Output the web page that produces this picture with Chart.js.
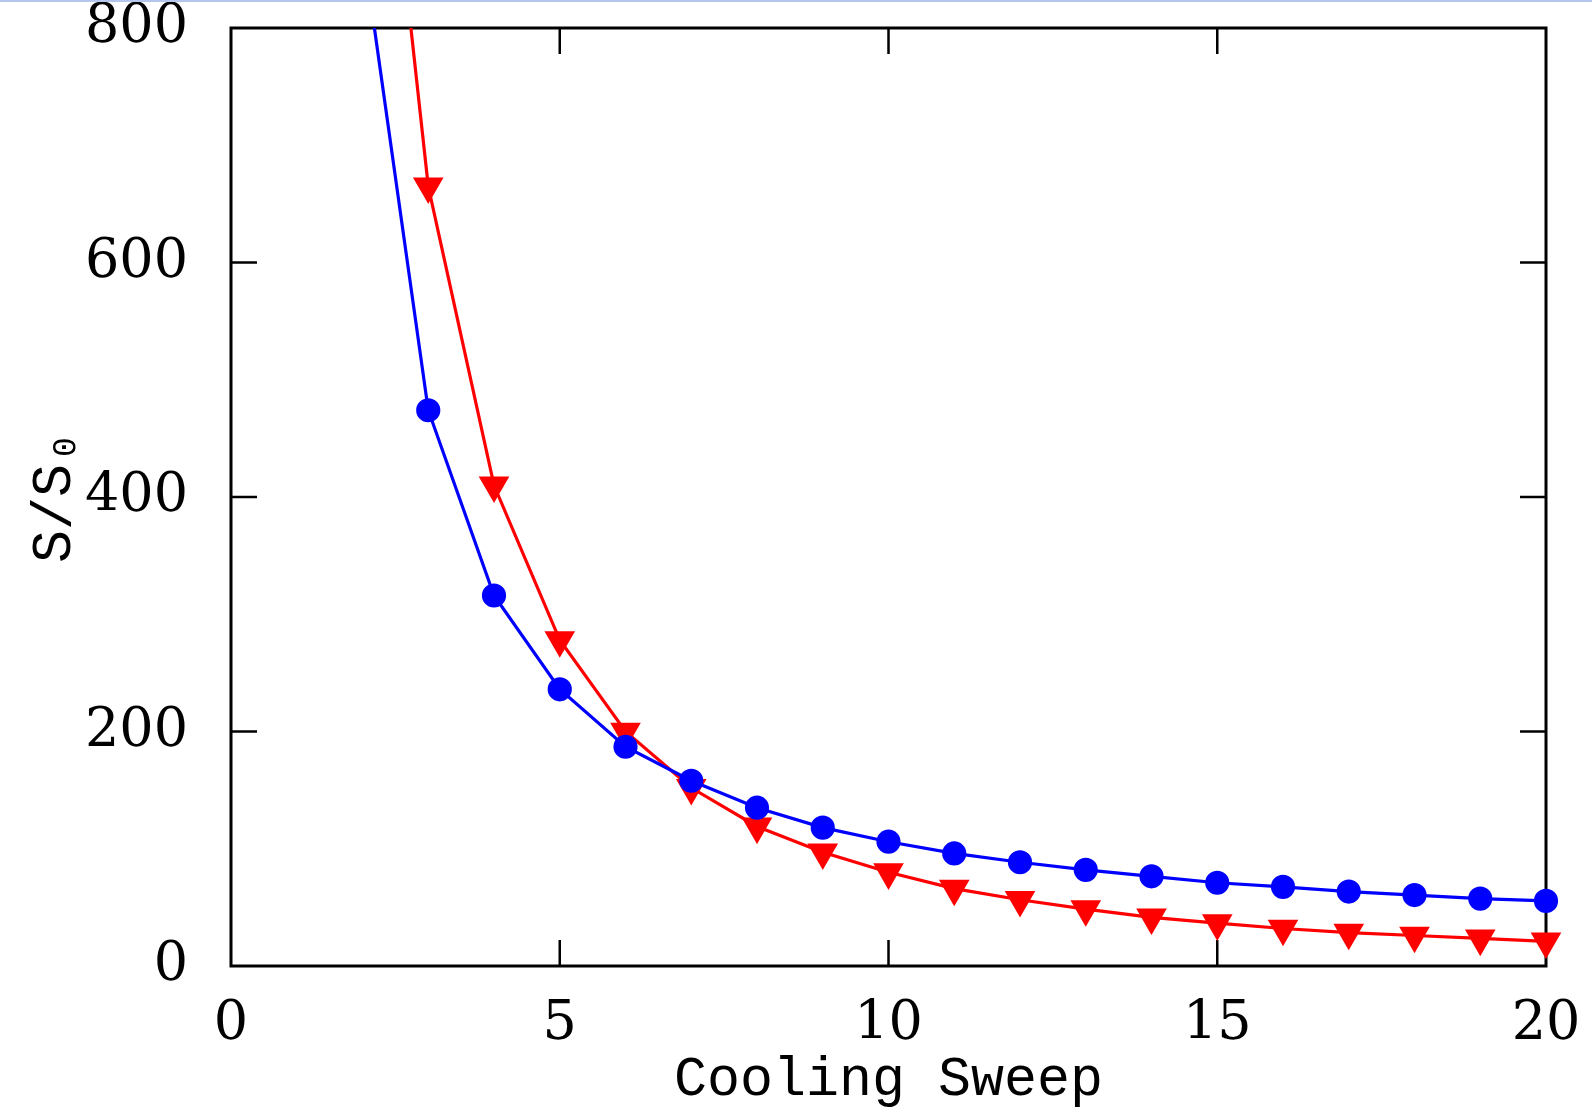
<!DOCTYPE html>
<html>
<head>
<meta charset="utf-8">
<script src="https://cdn.jsdelivr.net/npm/chart.js@4.4.1/dist/chart.umd.min.js"></script>
<style>
  html, body { margin: 0; padding: 0; background: #fff; }
  #topline { position: absolute; left: 0; top: 0; width: 1592px; height: 2px; background: #b4c6ee; }
</style>
</head>
<body>
<div id="topline"></div>
<canvas id="myChart" width="1592" height="1112"></canvas>
<script>
// values
const sweeps = [2, 3, 4, 5, 6, 7, 8, 9, 10, 11, 12, 13, 14, 15, 16, 17, 18, 19, 20];
const circleVals = [872, 474, 316, 236, 187, 158, 135, 118, 106, 96, 88.5, 82, 76.5, 71, 67.5, 63.5, 60.5, 57.5, 55.5];
const triangleVals = [1177, 665, 410, 278, 200, 152, 119, 97, 80, 66, 56.5, 48.5, 41.5, 36.5, 32, 28.5, 26, 23.5, 21];
const xTicks = [0, 5, 10, 15, 20];
const yTicks = [0, 200, 400, 600, 800];

const TICK_FONT = "'DejaVu Serif', serif";
const TITLE_FONT = "'Liberation Mono', 'DejaVu Sans Mono', monospace";
const TICK_LEN = 26;

// box + inward ticks on all four sides
const framePlugin = {
  id: 'frame',
  beforeDatasetsDraw(chart) {
    const { ctx, chartArea: a, scales: { x, y } } = chart;
    ctx.save();
    ctx.strokeStyle = '#000';
    ctx.lineWidth = 3;
    ctx.strokeRect(a.left, a.top, a.right - a.left, a.bottom - a.top);
    ctx.lineWidth = 2.5;
    ctx.beginPath();
    x.ticks.forEach(t => {
      if (t.value <= x.min || t.value >= x.max) return;
      const px = x.getPixelForValue(t.value);
      ctx.moveTo(px, a.bottom); ctx.lineTo(px, a.bottom - TICK_LEN);
      ctx.moveTo(px, a.top); ctx.lineTo(px, a.top + TICK_LEN);
    });
    y.ticks.forEach(t => {
      if (t.value <= y.min || t.value >= y.max) return;
      const py = y.getPixelForValue(t.value);
      ctx.moveTo(a.left, py); ctx.lineTo(a.left + TICK_LEN, py);
      ctx.moveTo(a.right, py); ctx.lineTo(a.right - TICK_LEN, py);
    });
    ctx.stroke();
    ctx.restore();
  }
};

const ctx = document.getElementById('myChart').getContext('2d');
new Chart(ctx, {
  type: 'line',
  data: {
    datasets: [
      {
        label: 'circles',
        data: sweeps.map((s, i) => ({ x: s, y: circleVals[i] })),
        borderColor: '#0000ff',
        backgroundColor: '#0000ff',
        borderWidth: 3.2,
        pointStyle: 'circle',
        pointRadius: 10.5,
        pointHoverRadius: 10.5,
        tension: 0,
        clip: { left: 20, top: 0, right: 20, bottom: 20 }
      },
      {
        label: 'triangles',
        data: sweeps.map((s, i) => ({ x: s, y: triangleVals[i] })),
        borderColor: '#ff0000',
        backgroundColor: '#ff0000',
        borderWidth: 3.2,
        pointStyle: 'triangle',
        pointRotation: 180,
        pointRadius: 14.5,
        pointHoverRadius: 14.5,
        tension: 0,
        clip: { left: 20, top: 0, right: 20, bottom: 20 }
      }
    ]
  },
  options: {
    responsive: false,
    animation: false,
    events: [],
    layout: { padding: { left: 0, top: 28, right: 46, bottom: 0 } },
    plugins: {
      legend: { display: false },
      tooltip: { enabled: false }
    },
    scales: {
      x: {
        type: 'linear',
        min: 0,
        max: 20,
        grid: { display: false },
        border: { display: false },
        afterBuildTicks: s => { s.ticks = xTicks.map(v => ({ value: v })); },
        afterFit: s => { s.height = 146; s.paddingLeft = 0; s.paddingRight = 0; },
        ticks: {
          color: '#000',
          padding: 24,
          maxRotation: 0,
          font: { family: TICK_FONT, size: 54, lineHeight: 1.0 }
        },
        title: {
          display: true,
          text: 'Cooling Sweep',
          color: '#000',
          padding: { top: 0, bottom: 4 },
          font: { family: TITLE_FONT, size: 55, lineHeight: 1.0 }
        }
      },
      y: {
        min: 0,
        max: 800,
        grid: { display: false },
        border: { display: false },
        afterBuildTicks: s => { s.ticks = yTicks.map(v => ({ value: v })); },
        afterFit: s => { s.width = 231; s.paddingTop = 0; s.paddingBottom = 0; },
        ticks: {
          color: '#000',
          padding: 35,
          font: { family: TICK_FONT, size: 54, lineHeight: 1.0 }
        },
        title: {
          display: true,
          text: 'S/S₀',
          color: '#000',
          padding: { top: 28, bottom: 0 },
          font: { family: TITLE_FONT, size: 55, lineHeight: 1.0 }
        }
      }
    }
  },
  plugins: [framePlugin]
});
</script>
</body>
</html>
